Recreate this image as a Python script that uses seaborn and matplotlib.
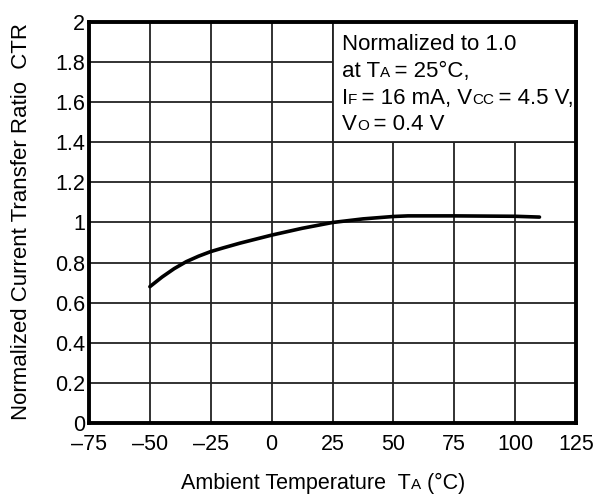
import matplotlib
matplotlib.use("Agg")
import matplotlib.pyplot as plt
import matplotlib.transforms as mtransforms
from matplotlib.patches import Rectangle
import seaborn as sns
import pandas as pd

# ---- data ----
temps = [-50, -45, -40, -35, -30, -25, -20, -13, 0, 12.5, 25, 37.5, 50, 56, 75, 100, 110]
ctr = [0.68, 0.728, 0.77, 0.805, 0.832, 0.855, 0.873, 0.897, 0.937, 0.971, 1.0, 1.018,
       1.03, 1.033, 1.033, 1.031, 1.027]
x_ticks = [-75, -50, -25, 0, 25, 50, 75, 100, 125]
x_tick_labels = ["\u201375", "\u201350", "\u201325", "0", "25", "50", "75", "100", "125"]
y_ticks = [0, 0.2, 0.4, 0.6, 0.8, 1, 1.2, 1.4, 1.6, 1.8, 2]
y_tick_labels = ["0", "0.2", "0.4", "0.6", "0.8", "1", "1.2", "1.4", "1.6", "1.8", "2"]

sns.set_theme(style="white")
plt.rcParams["font.family"] = ["Liberation Sans", "DejaVu Sans"]

FS = 15.5
NOTE = 16
SUB = 11

fig = plt.figure(figsize=(6.01, 5.01), dpi=100)
ax = fig.add_axes([89 / 601, 1 - 423 / 501, (576 - 89) / 601, (423 - 22) / 501])

df = pd.DataFrame({"T": temps, "CTR": ctr})
sns.lineplot(data=df, x="T", y="CTR", color="black", linewidth=2.6, ax=ax, zorder=3)

ax.set_xlim(-75, 125)
ax.set_ylim(0, 2)
ax.set_xticks(x_ticks)
ax.set_xticklabels(x_tick_labels)
ax.set_yticks(y_ticks)
ax.set_yticklabels(y_tick_labels)
ax.tick_params(axis="both", length=0, labelsize=FS, colors="black")
ax.tick_params(axis="x", pad=8)
ax.tick_params(axis="y", pad=3)
ax.set_xlabel("")
ax.set_ylabel("")
ax.grid(True, color="#222222", linewidth=1.3)
ax.set_axisbelow(True)
for s in ax.spines.values():
    s.set_color("black")
    s.set_linewidth(2.8)
    s.set_visible(True)

# white note box over the upper-right grid cells
ax.add_patch(Rectangle((25, 1.4), 100, 0.6, facecolor="white", edgecolor="#222222",
                       linewidth=1.3, zorder=1))

renderer = fig.canvas.get_renderer()


def rich(x_px, y_px, parts, ha="left"):
    """Place a line of text pieces (string, size) on a common baseline; coords in pixels from top-left."""
    texts = []
    widths = []
    for s, size in parts:
        t = fig.text(0, 0, s, fontsize=size, va="baseline", ha="left", color="black",
                     transform=mtransforms.Affine2D().translate(x_px, 501 - y_px))
        texts.append(t)
        widths.append(t.get_window_extent(renderer).width)
    total = sum(widths)
    dx = -total / 2 if ha == "center" else 0
    for t, w in zip(texts, widths):
        t.set_transform(mtransforms.Affine2D().translate(x_px + dx, 501 - y_px))
        dx += w


# annotation lines
rich(342, 50, [("Normalized to 1.0", NOTE)])
rich(342, 77, [("at T", NOTE), ("A", SUB), ("\u2009= 25\u00b0C,", NOTE)])
rich(342, 104, [("I", NOTE), ("F", SUB), ("\u2009= 16 mA, V", NOTE), ("CC", SUB), ("\u2009= 4.5 V,", NOTE)])
rich(342, 130, [("V", NOTE), ("O", SUB), ("\u2009= 0.4 V", NOTE)])

# x label
rich(323, 489, [("Ambient Temperature  T", FS), ("A", SUB), (" (\u00b0C)", FS)], ha="center")

# y label
fig.text(22 / 601, 1 - 221 / 501, "Normalized Current Transfer Ratio  CTR", rotation=90,
         fontsize=16, ha="center", va="center", color="black")

fig.savefig("out.png", dpi=100)
